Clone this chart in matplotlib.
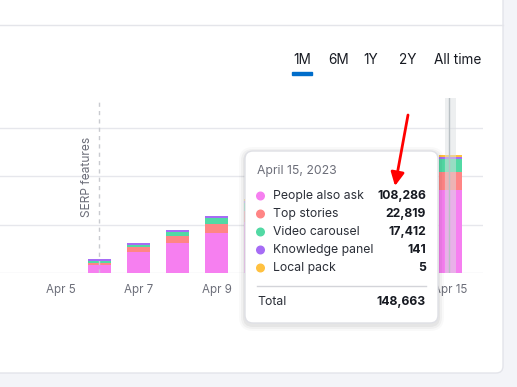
import matplotlib
matplotlib.use('Agg')
import matplotlib.pyplot as plt
from matplotlib.patches import FancyBboxPatch, Circle, Rectangle
import numpy as np

plt.rcParams['font.family'] = ['Inter', 'DejaVu Sans']

# days of April 2023 that have data
days = [6, 7, 8, 9, 10, 11, 12, 13, 14, 15]
people_also_ask = [10400, 27300, 38600, 52400, 66300, 76000, 85000, 93000, 101000, 108286]
top_stories = [3000, 6100, 9100, 11700, 14300, 17000, 19000, 20500, 21800, 22819]
video_carousel = [2200, 3000, 5200, 6900, 10000, 12000, 13500, 15000, 16300, 17412]
knowledge_panel = [38, 52, 70, 85, 98, 110, 118, 126, 134, 141]
local_pack = [0, 0, 0, 0, 2, 3, 3, 4, 4, 5]

series_names = ['People also ask', 'Top stories', 'Video carousel', 'Knowledge panel', 'Local pack']
series_colors = ['#f67ff0', '#ff8585', '#52d9a4', '#a66cf5', '#ffc140']

tick_days = [5, 7, 9, 11, 13, 15]
tick_labels = ['Apr 5', 'Apr 7', 'Apr 9', 'Apr 11', 'Apr 13', 'Apr 15']
grid_vals = [0, 63000, 126000, 189000]
serp_day = 6
hover_day = 15
hover_date = 'April 15, 2023'
periods = ['1M', '6M', '1Y', '2Y', 'All time']

W, H = 517, 387
fig = plt.figure(figsize=(W / 100, H / 100), dpi=100)

# page background + card
bg = fig.add_axes([0, 0, 1, 1], zorder=0)
bg.set_xlim(0, W)
bg.set_ylim(H, 0)
bg.axis('off')
bg.add_patch(Rectangle((0, 0), W, H, color='#f3f4f8'))
bg.add_patch(FancyBboxPatch((-20, -20), 523, 393, boxstyle='round,pad=0,rounding_size=7',
                            fc='white', ec='#e3e4ea', lw=1))
bg.plot([0, 503], [25, 25], color='#e4e5ea', lw=1)

# chart
ax = fig.add_axes([0, 1 - 273 / H, 483 / W, 175 / H], zorder=1)
ax.patch.set_alpha(0)
ax.set_xlim(3.449, 15.833)
ax.set_ylim(0, 227500)

data = np.array([people_also_ask, top_stories, video_carousel, knowledge_panel, local_pack], dtype=float)
min_h = 2600  # smallest visible segment, like the web chart does
shown = np.where(data > 0, np.maximum(data, min_h), 0)
bottom = np.zeros(len(days))
for vals, c in zip(shown, series_colors):
    ax.bar(days, vals, width=0.59, bottom=bottom, color=c, lw=0, zorder=2)
    bottom += vals

for v in grid_vals:
    ax.axhline(v, color='#e6e7ec', lw=1, zorder=1)

ax.axvline(serp_day, color='#c9cbd0', ls=(0, (3, 3)), lw=1, zorder=3)
ax.axvspan(hover_day - 0.145, hover_day + 0.145, color='#dde1e3', alpha=0.5, lw=0, zorder=3)
ax.axvline(hover_day - 0.03, color='#b9c0c4', lw=1, zorder=4)

ax.set_xticks(tick_days, tick_labels)
ax.set_yticks([])
ax.tick_params(length=0, pad=8, colors='#6c6e79', labelsize=8.3)
for s in ax.spines.values():
    s.set_visible(False)

# overlay in pixel coords
ov = fig.add_axes([0, 0, 1, 1], zorder=3)
ov.set_xlim(0, W)
ov.set_ylim(H, 0)
ov.axis('off')

ov.text(87, 177, 'SERP features', rotation=90, fontsize=8.6, color='#6c6e79', ha='center', va='center')

# period selector
for lbl, x in zip(periods, [302, 338.3, 370.8, 408, 458]):
    ov.text(x, 60.5, lbl, fontsize=9.8, color='#171a22', ha='center', va='center')
ov.add_patch(Rectangle((292, 72), 20, 2.7, color='#006dca'))

# tooltip
for d, a in [(6, 0.025), (4, 0.035), (2, 0.045)]:
    ov.add_patch(FancyBboxPatch((245 - d, 151 - d + 2), 193 + 2 * d, 172 + 2 * d,
                                boxstyle='round,pad=0,rounding_size=%d' % (8 + d),
                                fc='#000000', alpha=a, lw=0))
ov.add_patch(FancyBboxPatch((245, 151), 193, 172, boxstyle='round,pad=0,rounding_size=8',
                            fc='white', ec='#dfe0e5', lw=1))
ov.text(257, 171, hover_date, fontsize=8.8, color='#6c6e79', va='center')
idx = days.index(hover_day)
total = 0
for i, (name, c) in enumerate(zip(series_names, series_colors)):
    y = 196 + i * 18
    val = int(data[i][idx])
    total += val
    ov.add_patch(Circle((260.5, y), 3.8, color=c))
    ov.text(273, y, name, fontsize=8.8, color='#2b2f38', va='center')
    ov.text(426, y, f'{val:,}', fontsize=8.8, color='#171a22', weight='bold', ha='right', va='center')
ov.plot([257, 426], [285.7, 285.7], color='#d3d4d9', lw=1)
ov.text(257, 301.7, 'Total', fontsize=8.8, color='#2b2f38', va='center')
ov.text(426, 301.7, f'{total:,}', fontsize=8.8, color='#171a22', weight='bold', ha='right', va='center')

# red arrow
ov.annotate('', xy=(395, 186), xytext=(408, 115),
            arrowprops=dict(arrowstyle='-|>', color='#ff0000', lw=2, mutation_scale=20,
                            shrinkA=0, shrinkB=0))

fig.savefig('out.png', dpi=100)
